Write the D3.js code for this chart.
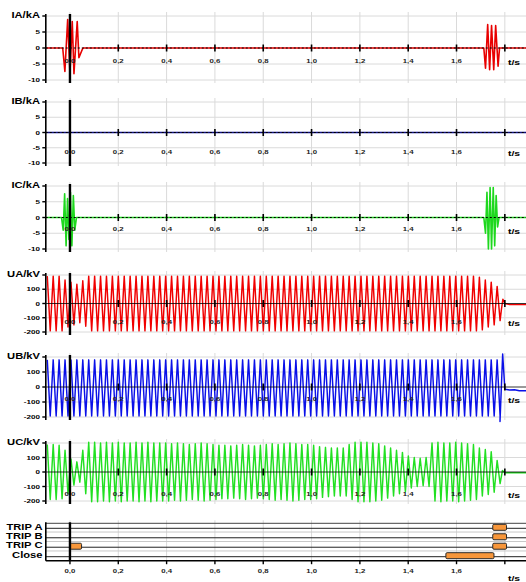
<!DOCTYPE html>
<html>
<head>
<meta charset="utf-8">
<script src="https://cdn.jsdelivr.net/npm/d3@7"></script>
<style>
  body { margin: 0; background: #fff; }
  svg { display: block; }
  text { font-family: "Liberation Sans", Arial, sans-serif; fill: #000; }
</style>
</head>
<body>
<div id="chart"></div>
<script>
// ---- data ----
var xTicks = [0, 0.2, 0.4, 0.6, 0.8, 1.0, 1.2, 1.4, 1.6, 1.8];
var currentTicks = [-10, -5, 0, 5, 10];
var voltageTicks = [-200, -100, 0, 100, 200];

// currents [t/s, kA]
var iaPts = [[-0.1,0],[-0.03,0],[-0.021,-7.3],[-0.0095,8.9],[0.0,-7.8],[0.0095,8.3],[0.0166,-8],[0.030,8.3],[0.037,-3],[0.048,-1],[0.054,0],
             [1.713,0],[1.72,-6.3],[1.729,7.3],[1.737,-6.8],[1.745,7],[1.754,-6.8],[1.762,7],[1.772,-5.7],[1.778,0],[1.9,0]];
var ibPts = [[-0.1,0],[1.9,0]];
var icPts = [[-0.1,0],[-0.035,0],[-0.028,-4],[-0.022,7.5],[-0.016,-9],[-0.01,6],[-0.004,-7],[0.002,8],[0.008,-9],[0.014,7],[0.02,-4],[0.027,0],
             [1.713,0],[1.72,-5],[1.726,8],[1.732,-10],[1.739,9.5],[1.745,-10],[1.752,9.5],[1.758,-9],[1.764,7],[1.77,-3],[1.776,0],[1.9,0]];

// voltages: one peak value (kV) per cycle, starting at t = -0.1 s
var cycle = 0.0245;
var uaAmp = [192,192,192,165,150,135,160,
  192,192,192,192,192,192,192,192,192,192,192,192,192,192,192,192,192,192,192,192,192,192,
  192,192,192,192,192,192,192,192,192,192,192,192,192,192,192,192,192,192,192,192,192,192,
  192,192,192,192,192,192,192,192,192,192,192,192,192,192,192,192,192,192,192,192,192,192,
  185,165,150,120];
var ubAmp = [187,187,187,187,187,187,187,187,187,187,187,187,187,187,187,187,187,187,187,187,
  187,187,187,187,187,187,187,187,187,187,187,187,187,187,187,187,187,187,187,187,
  187,187,187,187,187,187,187,187,187,187,187,187,187,187,187,187,187,187,187,187,
  187,187,187,187,187,187,187,187,187,187,187,187,187,187,187,187,187];
var ucAmp = [190,190,185,150,90,70,150,
  205,205,200,205,200,205,200,200,205,200,205,200,200,200,
  195,200,195,190,195,200,195,190,
  185,185,180,185,190,185,180,185,
  190,195,190,195,200,195,190,190,
  185,175,170,165,165,165,190,205,205,205,200,195,180,165,150,135,110,100,95,100,
  200,205,200,200,205,200,195,190,165,155,140,80];
var uaOffset = 0, ubOffset = -6, ucOffset = 0;
var uaTail = [[1.786,-40],[1.792,30],[1.80,0],[1.82,-8],[1.9,-8]];
var ubTail = [[1.780,-230],[1.791,220],[1.800,-15],[1.82,-20],[1.84,-18],[1.86,-25],[1.9,-25]];
var ucTail = [[1.79,10],[1.80,-5],[1.9,-5]];

// binary signals [start, end] in s
var tripLabels = ["TRIP A", "TRIP B", "TRIP C", "Close"];
var tripA = [[1.75, 1.807]];
var tripB = [[1.75, 1.807]];
var tripC = [[0.0, 0.048], [1.75, 1.807]];
var closeCmd = [[1.556, 1.755]];

// ---- build wave point lists ----
function wave(amp, off, tail) {
  var pts = [];
  amp.forEach(function(a, k) {
    pts.push([-0.1 + (k + 0.25) * cycle, off + a]);
    pts.push([-0.1 + (k + 0.75) * cycle, off - a]);
  });
  return pts.concat(tail);
}

var W = 526, H = 582;
var x = d3.scaleLinear().domain([-0.1, 1.9]).range([45.8, 529]);
var x0 = x(-0.1);

var svg = d3.select("#chart").append("svg").attr("width", W).attr("height", H);

function txt(g, px, py, s, anchor, size, weight) {
  return g.append("text")
    .attr("transform", "translate(" + px + "," + py + ") scale(1.3,1)")
    .attr("text-anchor", anchor)
    .style("font-size", size + "px")
    .style("font-weight", weight)
    .text(s);
}

var fmt = function(v) { return d3.format(".1f")(v).replace(".", ","); };

var panels = [
  {name: "IA/kA", pts: iaPts, color: "#e80000", ticks: currentTicks, top: 16, bot: 80, lab: 60.7, ripple: true},
  {name: "IB/kA", pts: ibPts, color: "#10108a", ticks: currentTicks, top: 102, bot: 163, lab: 151.7, ripple: true},
  {name: "IC/kA", pts: icPts, color: "#1ed81e", ticks: currentTicks, top: 186, bot: 249, lab: 229, ripple: true},
  {name: "UA/kV", pts: wave(uaAmp, uaOffset, uaTail), color: "#f00000", ticks: voltageTicks, top: 275, bot: 332, lab: 321.3},
  {name: "UB/kV", pts: wave(ubAmp, ubOffset, ubTail), color: "#0a10e8", ticks: voltageTicks, top: 357, bot: 417, lab: 398.7},
  {name: "UC/kV", pts: wave(ucAmp, ucOffset, ucTail), color: "#22e022", ticks: voltageTicks, top: 443, bot: 501, lab: 493.7}
];

panels.forEach(function(p) {
  var y = d3.scaleLinear().domain(d3.extent(p.ticks)).range([p.bot, p.top]);
  var g = svg.append("g");

  // grid
  g.selectAll(".vg").data(xTicks).enter().append("line")
    .attr("x1", x).attr("x2", x)
    .attr("y1", p.top - 4).attr("y2", p.bot + 3)
    .attr("stroke", "#dadada").attr("stroke-width", 1);
  g.selectAll(".hg").data(p.ticks.filter(function(v) { return v !== 0; })).enter().append("line")
    .attr("x1", x0).attr("x2", W)
    .attr("y1", y).attr("y2", y)
    .attr("stroke", "#dadada").attr("stroke-width", 1);

  // signal
  g.append("path").datum(p.pts)
    .attr("d", d3.line().x(function(d) { return x(d[0]); }).y(function(d) { return y(d[1]); }))
    .attr("fill", "none")
    .attr("stroke", p.color)
    .attr("stroke-width", p.ripple ? 1.6 : 1.45)
    .attr("stroke-linejoin", "round");

  // zero line (time axis)
  g.append("line")
    .attr("x1", x0).attr("x2", W)
    .attr("y1", y(0)).attr("y2", y(0))
    .attr("stroke", "#000")
    .attr("stroke-width", p.ripple ? 1 : 0.8)
    .attr("stroke-dasharray", p.ripple ? "2,2" : null);

  // time ticks on the zero line
  g.selectAll(".xt").data(xTicks.slice(1)).enter().append("line")
    .attr("x1", x).attr("x2", x)
    .attr("y1", y(0) - 3.5).attr("y2", y(0) + 3.5)
    .attr("stroke", "#000").attr("stroke-width", 1.6);

  // left axis
  g.append("line")
    .attr("x1", x0).attr("x2", x0)
    .attr("y1", p.top - 2).attr("y2", p.bot + 3)
    .attr("stroke", "#000").attr("stroke-width", 1.6);
  g.selectAll(".yt").data(p.ticks).enter().append("line")
    .attr("x1", x0 - 3.5).attr("x2", x0)
    .attr("y1", y).attr("y2", y)
    .attr("stroke", "#000").attr("stroke-width", 1.4);

  // cursor at t = 0
  g.append("line")
    .attr("x1", x(0)).attr("x2", x(0))
    .attr("y1", p.top - 2).attr("y2", p.bot + 3)
    .attr("stroke", "#000").attr("stroke-width", 2.4);

  // labels
  p.ticks.slice(0, -1).forEach(function(v) {
    txt(g, 40, y(v) + 2.2, v, "end", 6.2, "bold");
  });
  txt(g, 40, p.top + 1.6, p.name, "end", 8.6, "bold");
  xTicks.slice(0, -1).forEach(function(t) {
    txt(g, x(t), p.lab + 2.2, fmt(t), "middle", 6, "bold").style("fill", "#222");
  });
  txt(g, 508, p.lab + 4.5, "t/s", "start", 8, "bold");
});

// ---- binary (trip / close) panel ----
var tg = svg.append("g");
var tTop = 523.3, tBot = 560.7;
var lanes = [tripA, tripB, tripC, closeCmd];
var laneY = d3.scaleLinear().domain([0, 3]).range([528.3, 556.7]);

tg.selectAll(".vg").data(xTicks).enter().append("line")
  .attr("x1", x).attr("x2", x)
  .attr("y1", tTop - 3).attr("y2", tBot)
  .attr("stroke", "#dadada");
[0.5, 1.5, 2.5].forEach(function(i) {
  tg.append("line").attr("x1", x0).attr("x2", W)
    .attr("y1", laneY(i) - 1).attr("y2", laneY(i) - 1)
    .attr("stroke", "#c8c8c8");
});
tg.append("line").attr("x1", x0).attr("x2", W).attr("y1", tTop).attr("y2", tTop)
  .attr("stroke", "#444");

lanes.forEach(function(bars, i) {
  var c = laneY(i);
  tg.append("line").attr("x1", x0).attr("x2", W).attr("y1", c).attr("y2", c)
    .attr("stroke", "#222").attr("stroke-width", 1);
  tg.selectAll(".bar" + i).data(bars).enter().append("rect")
    .attr("x", function(d) { return x(d[0]); })
    .attr("width", function(d) { return x(d[1]) - x(d[0]); })
    .attr("y", c - 4).attr("height", 6)
    .attr("rx", 1.2)
    .attr("fill", "#f7963a").attr("stroke", "#2a2a2a").attr("stroke-width", 1);
  txt(tg, 42.5, c + 1.2, tripLabels[i], "end", 8.6, "bold");
});

tg.append("line").attr("x1", x0).attr("x2", W).attr("y1", tBot).attr("y2", tBot)
  .attr("stroke", "#000").attr("stroke-width", 1.4);
tg.selectAll(".xt").data(xTicks).enter().append("line")
  .attr("x1", x).attr("x2", x)
  .attr("y1", tBot).attr("y2", tBot + 3.5)
  .attr("stroke", "#000").attr("stroke-width", 1.4);
tg.append("line").attr("x1", x0).attr("x2", x0).attr("y1", tTop - 1).attr("y2", tBot)
  .attr("stroke", "#000").attr("stroke-width", 1.6);
tg.append("line").attr("x1", x(0)).attr("x2", x(0)).attr("y1", tTop - 1).attr("y2", tBot)
  .attr("stroke", "#000").attr("stroke-width", 2.4);
xTicks.slice(0, -1).forEach(function(t) {
  txt(tg, x(t), 573.2, fmt(t), "middle", 6, "bold").style("fill", "#222");
});
txt(tg, 508, 581, "t/s", "start", 8, "bold");
</script>
</body>
</html>
